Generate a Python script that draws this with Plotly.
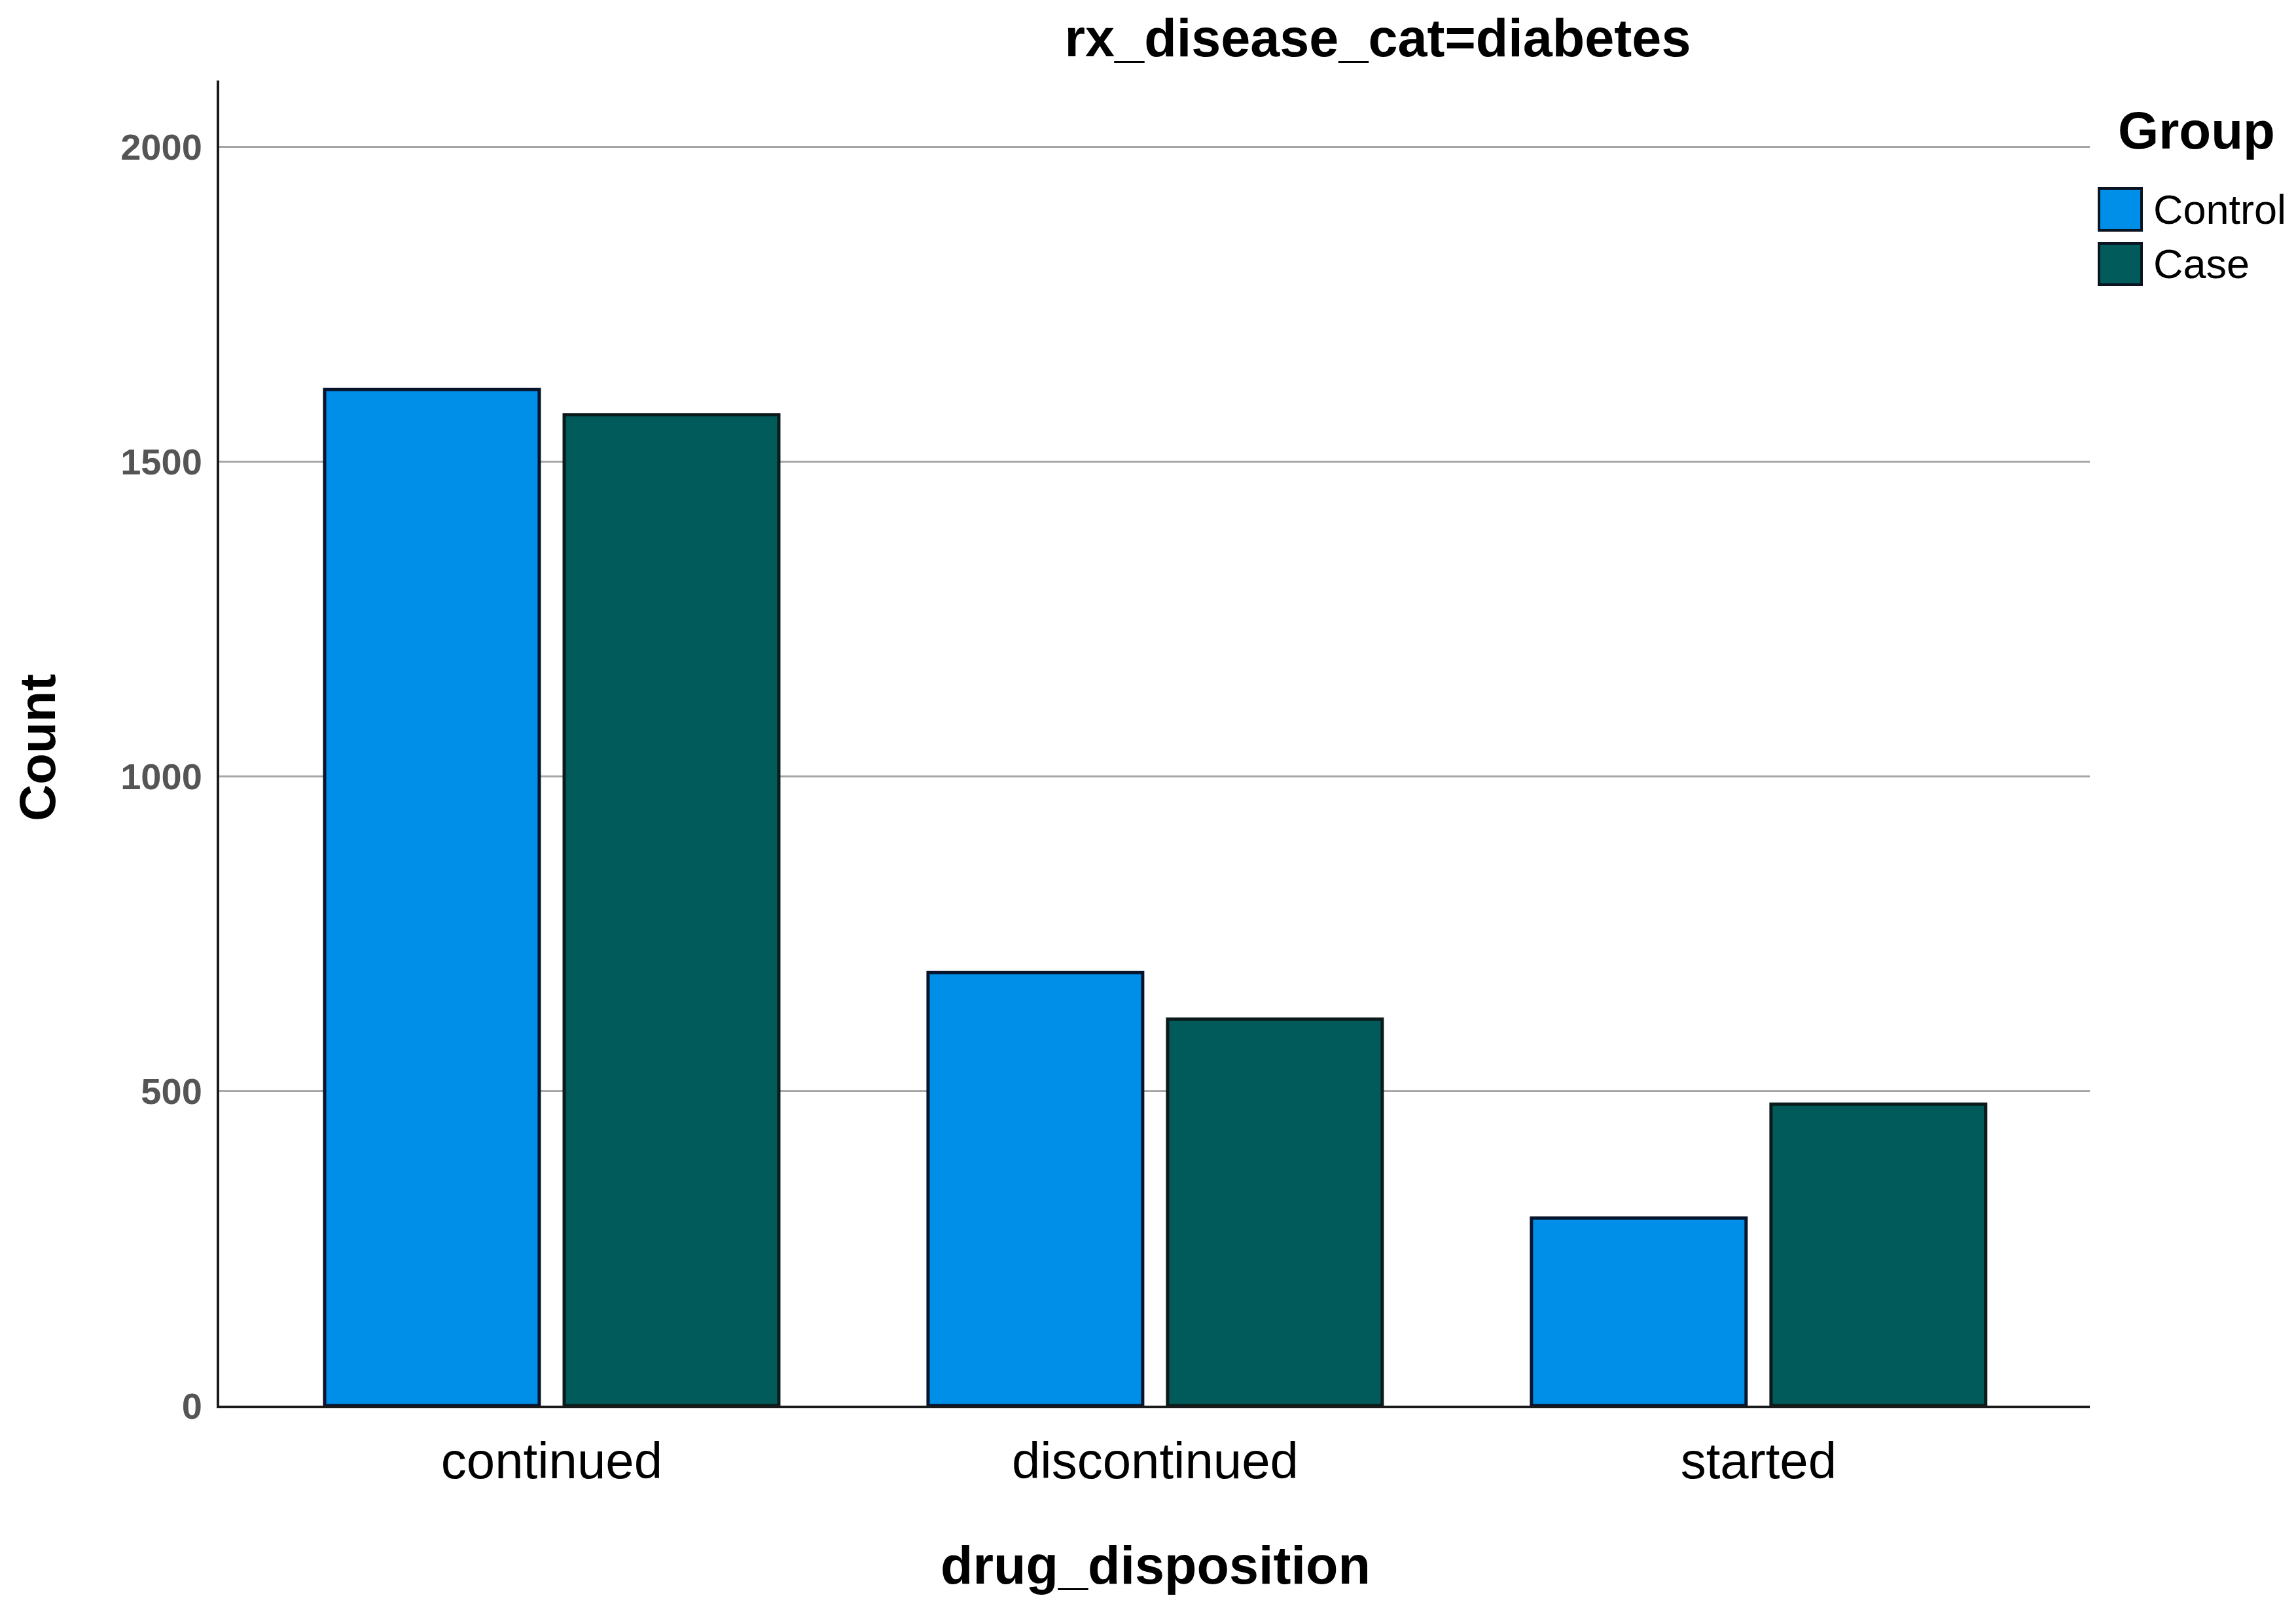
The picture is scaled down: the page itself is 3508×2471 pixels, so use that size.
import plotly.graph_objects as go

# ---- data ----
categories = ["continued", "discontinued", "started"]
control_counts = [1614, 688, 298]
case_counts = [1574, 614, 479]
series_names = ["Control", "Case"]
y_tick_values = [0, 500, 1000, 1500, 2000]
y_tick_labels = ["0", "500", "1000", "1500", "2000"]

# ---- layout constants (pixels, in window coordinates) ----
WIN_W, WIN_H = 3508, 2471
OFF = 8                      # default page body margin
W, H = WIN_W - OFF, WIN_H - OFF
PLOT_L, PLOT_R, PLOT_T, PLOT_B = 335, 3193, 123, 2148   # window px
L = PLOT_L - OFF
T = PLOT_T - OFF
R = WIN_W - PLOT_R
B = WIN_H - PLOT_B
PW, PH = W - L - R, H - T - B

def px_x(p):
    return (p - PLOT_L) / PW

def px_y(p):
    return (PLOT_B - p) / PH

CONTROL_FILL = "#008FE8"
CASE_FILL = "#015B5A"
FONT = "Liberation Sans, Arial, sans-serif"

fig = go.Figure()
fig.add_trace(go.Bar(
    x=categories, y=control_counts, name=series_names[0],
    marker=dict(color=CONTROL_FILL, line=dict(color="#07142B", width=5)),
    showlegend=False,
))
fig.add_trace(go.Bar(
    x=categories, y=case_counts, name=series_names[1],
    marker=dict(color=CASE_FILL, line=dict(color="#0B1A1A", width=5)),
    showlegend=False,
))

annotations = [
    dict(text="<b>drug_disposition</b>", xref="paper", yref="paper",
         x=px_x(1765), y=px_y(2392), xanchor="center", yanchor="middle",
         showarrow=False, font=dict(family=FONT, size=81, color="black")),
    dict(text="<b>Count</b>", xref="paper", yref="paper",
         x=px_x(57), y=px_y(1143), xanchor="center", yanchor="middle",
         textangle=-90, showarrow=False,
         font=dict(family=FONT, size=78, color="black")),
    dict(text="<b>Group</b>", xref="paper", yref="paper",
         x=px_x(3234), y=px_y(200), xanchor="left", yanchor="middle",
         showarrow=False, font=dict(family=FONT, size=80, color="black")),
]
shapes = []
legend_rows = [(series_names[0], CONTROL_FILL, 288, 352),
               (series_names[1], CASE_FILL, 372, 435)]
for name, col, y0, y1 in legend_rows:
    shapes.append(dict(type="rect", xref="paper", yref="paper",
                       x0=px_x(3207), x1=px_x(3272), y0=px_y(y1), y1=px_y(y0),
                       fillcolor=col, line=dict(color="#0A1420", width=4)))
    annotations.append(dict(text=name, xref="paper", yref="paper",
                            x=px_x(3288), y=px_y((y0 + y1) / 2), xanchor="left",
                            yanchor="middle", showarrow=False,
                            font=dict(family=FONT, size=63, color="black")))

fig.update_layout(
    width=W, height=H,
    margin=dict(l=L, r=R, t=T, b=B, autoexpand=False),
    paper_bgcolor="white", plot_bgcolor="white",
    barmode="group", bargap=0.206, bargroupgap=0.104,
    title=dict(text="<b>rx_disease_cat=diabetes</b>", xref="container", yref="container",
               x=(2105 - OFF) / W, y=1 - (58 - OFF) / H, xanchor="center", yanchor="middle",
               font=dict(family=FONT, size=81, color="black")),
    xaxis=dict(
        range=[-0.551, 2.549], showline=True, linecolor="#1a1a1a", linewidth=4,
        showgrid=False, ticks="", ticklabelstandoff=13,
        tickfont=dict(family=FONT, size=78, color="black"),
    ),
    yaxis=dict(
        range=[0, 2105], tickvals=y_tick_values, ticktext=y_tick_labels,
        showline=True, linecolor="#1a1a1a", linewidth=4,
        showgrid=True, gridcolor="#A6A6A6", gridwidth=3, zeroline=False,
        ticks="", ticklabelstandoff=11,
        tickfont=dict(family=FONT, size=56, color="#555555", weight="bold"),
    ),
    annotations=annotations,
    shapes=shapes,
)

fig.write_html("out.html")
